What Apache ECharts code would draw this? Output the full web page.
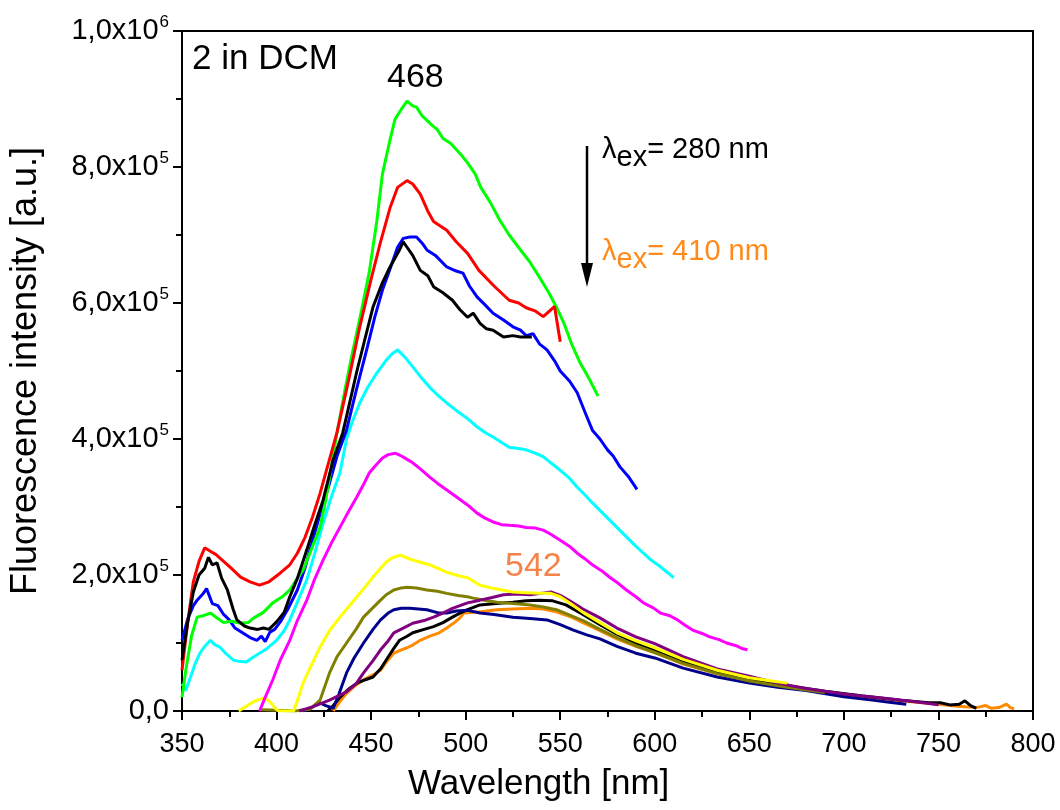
<!DOCTYPE html>
<html>
<head>
<meta charset="utf-8">
<script src="https://cdn.jsdelivr.net/npm/echarts@6/dist/echarts.min.js"></script>
<style>
  html, body { margin: 0; padding: 0; background: #fff; }
  #chart { width: 1060px; height: 810px; }
</style>
</head>
<body>
<div id="chart"></div>
<script>
// Emission spectra of 2 in DCM for a series of excitation wavelengths.
// Each series: [wavelength nm, intensity in units of 1e5 a.u.]
const ex280Black = [[350,0.75],[353,1.3],[356,1.75],[359,2.0],[362,2.1],[364,2.26],[366,2.15],[368.5,2.18],[371,1.95],[374,1.78],[377,1.5],[379,1.34],[383,1.25],[386,1.22],[390,1.2],[393,1.22],[396,1.2],[400,1.31],[404,1.45],[407,1.68],[411,1.95],[416,2.37],[420,2.72],[424.6,3.1],[430,3.7],[435,4.09],[442.5,5.0],[447,5.5],[451,5.94],[456,6.3],[460,6.53],[465,6.78],[467,6.9],[469,6.82],[472,6.7],[476,6.48],[480,6.4],[483,6.24],[488,6.15],[493,6.04],[497,5.9],[501,5.79],[504,5.85],[507.6,5.7],[511,5.62],[514.5,5.6],[520,5.5],[525,5.52],[529,5.5],[535,5.5]];
const exRed = [[350,0.6],[353,1.3],[356,1.9],[359,2.2],[362,2.4],[365,2.35],[368,2.3],[372,2.2],[376,2.1],[381,1.97],[386,1.9],[391,1.85],[396,1.9],[402,2.03],[407,2.15],[411,2.32],[415,2.55],[419,2.85],[423,3.2],[427,3.6],[432,4.1],[438,4.85],[444,5.65],[450,6.35],[455,6.9],[460,7.4],[464,7.7],[469,7.8],[472,7.75],[476,7.6],[480,7.35],[483,7.2],[490,7.07],[495,6.9],[501,6.73],[507,6.48],[515,6.25],[523,6.04],[528,6.0],[532,5.93],[537,5.88],[541,5.8],[545,5.9],[547,5.95],[550,5.43]];
const exGreen = [[350,0.2],[352,0.6],[355,1.1],[358,1.38],[361,1.4],[365,1.44],[368,1.38],[372,1.3],[376,1.32],[381,1.29],[385,1.3],[388,1.37],[393,1.45],[398,1.59],[403,1.68],[407,1.78],[411,1.95],[414,2.07],[418,2.35],[423,2.7],[426,3.1],[429,3.6],[432,4.1],[436,4.7],[440,5.25],[445,5.9],[449,6.45],[453,7.2],[456,7.9],[460,8.4],[462.6,8.7],[466,8.85],[469,8.97],[472,8.9],[474,8.88],[477,8.75],[479,8.7],[482,8.62],[485,8.55],[488,8.42],[492,8.35],[497,8.2],[501,8.06],[505,7.9],[508,7.7],[513,7.48],[518,7.22],[523,7.0],[529,6.78],[534,6.6],[539,6.38],[544,6.15],[548,5.94],[552,5.7],[556,5.4],[560.5,5.12],[565,4.9],[570,4.63]];
const exBlue = [[350,1.04],[353,1.35],[356,1.55],[358,1.63],[361,1.72],[363,1.8],[366,1.58],[369,1.55],[372,1.42],[375,1.34],[378,1.22],[382,1.15],[386,1.08],[389.6,1.04],[392,1.1],[394,1.02],[396.5,1.16],[399,1.2],[402,1.31],[406,1.5],[411,1.78],[415,2.1],[419,2.5],[423,2.9],[428,3.35],[432,3.75],[437,4.13],[442,4.7],[448,5.35],[452,5.8],[456,6.19],[460,6.5],[464,6.82],[467,6.95],[470.5,6.97],[474,6.97],[477,6.88],[479.5,6.78],[484,6.7],[490,6.53],[495,6.47],[498.6,6.44],[502,6.25],[506,6.09],[510,5.98],[514.5,5.85],[520,5.75],[525,5.65],[529,5.6],[532,5.52],[535.6,5.55],[539,5.4],[543,5.31],[547,5.15],[550,5.0],[555,4.85],[559,4.68],[563,4.4],[567,4.13],[571,4.0],[575,3.84],[578,3.75],[581.6,3.59],[586,3.45],[590.6,3.26]];
const exCyan = [[350,0.4],[352,0.3],[354,0.46],[357,0.7],[359.5,0.85],[362,0.95],[365,1.04],[367,0.98],[370,0.94],[373,0.85],[377,0.75],[380,0.73],[384,0.72],[387,0.78],[391,0.85],[395,0.92],[400,1.04],[404,1.18],[407,1.34],[411,1.6],[416,1.93],[420,2.3],[424.6,2.76],[429,3.15],[433.5,3.5],[437,4.0],[440,4.25],[444,4.53],[448,4.75],[453,4.97],[458,5.16],[461,5.25],[464,5.31],[468,5.2],[472,5.06],[476,4.92],[481,4.76],[485,4.65],[490,4.53],[495,4.42],[501,4.3],[506,4.18],[510,4.1],[514.5,4.03],[519,3.95],[523,3.88],[528,3.86],[532,3.84],[536,3.8],[541,3.74],[545,3.65],[550,3.54],[555,3.42],[559,3.29],[563,3.18],[567,3.06],[571,2.95],[576,2.81],[580,2.7],[585,2.56],[589,2.45],[594,2.32],[598,2.22],[603,2.12],[607,2.03],[610,1.96]];
const exMagenta = [[391,0],[394,0.2],[398,0.46],[402,0.75],[407,1.04],[411,1.33],[416,1.63],[420,1.93],[424.6,2.22],[429,2.47],[433.5,2.7],[438,2.93],[442.5,3.15],[446,3.33],[449,3.5],[452,3.6],[456,3.72],[459,3.77],[463,3.79],[466,3.75],[469,3.7],[472,3.65],[476,3.56],[481,3.44],[485,3.35],[490,3.25],[495,3.15],[501,3.03],[506,2.91],[510,2.84],[514.5,2.78],[519,2.74],[523,2.73],[528,2.72],[532,2.7],[537,2.69],[541,2.66],[545,2.6],[550,2.51],[555,2.42],[559,2.32],[563,2.24],[567,2.15],[572,2.06],[576,1.97],[581,1.87],[585,1.78],[590,1.68],[594,1.59],[599,1.52],[603,1.44],[608,1.4],[612,1.34],[616,1.26],[620,1.19],[625,1.14],[629,1.09],[634,1.05],[638,1.0],[643,0.96],[646,0.92],[649,0.9]];
const exYellow = [[380,0],[384,0.07],[388,0.14],[391,0.17],[393,0.19],[395,0.17],[397,0.12],[399,0.05],[401,0],[409,0],[411,0.15],[414,0.41],[418,0.65],[423,0.94],[428,1.18],[433.5,1.38],[438,1.53],[442.5,1.68],[447,1.83],[451,1.97],[455,2.1],[458,2.19],[461,2.25],[464,2.28],[466,2.29],[469,2.25],[472,2.22],[477,2.18],[481,2.15],[486,2.09],[490,2.04],[496,1.99],[501,1.96],[507.6,1.85],[515,1.8],[525,1.75],[532,1.74],[539,1.73],[545,1.73],[550,1.68],[556,1.57],[562,1.45],[571,1.3],[580,1.15],[590,1.03],[600,0.93],[615,0.76],[633,0.6],[650,0.49],[660,0.45],[670,0.41]];
const exOlive = [[392,0.02],[400,0.01],[410,0.0],[418,0.03],[423,0.16],[428,0.56],[432,0.8],[437,1.0],[442,1.2],[446,1.38],[451,1.52],[455,1.63],[458,1.71],[462,1.78],[466,1.81],[469,1.82],[474,1.81],[479.5,1.78],[485,1.76],[490,1.73],[496,1.7],[501,1.68],[504,1.66],[510,1.63],[516.5,1.6],[525,1.58],[534,1.56],[541,1.53],[548,1.49],[556,1.4],[562,1.33],[571,1.2],[580,1.08],[590,0.96],[600,0.86],[615,0.7],[633,0.55],[650,0.44],[670,0.35],[690,0.27]];
const exNavy = [[414,0],[418,0.04],[421,0.1],[423,0.12],[426,0.08],[430,0.04],[433,0.25],[437,0.56],[441,0.78],[446,1.0],[451,1.2],[455,1.34],[459,1.44],[462,1.49],[466,1.51],[470.6,1.51],[475,1.5],[479.5,1.49],[486,1.44],[490,1.44],[495,1.47],[501,1.48],[507.6,1.44],[515,1.42],[525,1.38],[534,1.36],[543,1.34],[550,1.27],[557,1.19],[564,1.12],[571,1.06],[580,0.95],[590,0.85],[600,0.78],[615,0.63],[633,0.5],[650,0.41],[665,0.35],[680,0.3],[700,0.21],[715,0.16],[724,0.13],[733,0.1]];
const exPurple = [[412,0],[419,0.06],[428,0.16],[437,0.28],[442,0.4],[446,0.56],[451,0.74],[455,0.9],[459,1.03],[462,1.15],[467,1.22],[472,1.29],[478,1.33],[483,1.38],[488,1.44],[493,1.51],[501,1.59],[507.6,1.63],[514,1.67],[520,1.71],[527,1.72],[534,1.71],[540,1.73],[545,1.75],[550,1.7],[555,1.62],[562,1.5],[571,1.37],[580,1.22],[590,1.09],[600,0.99],[615,0.8],[633,0.62],[650,0.51],[665,0.41],[680,0.33],[700,0.25],[720,0.19],[733,0.15],[742,0.12],[750,0.09]];
const ex2Black = [[427,0],[430,0.08],[433.5,0.2],[438,0.32],[442.5,0.41],[447,0.46],[451,0.5],[455,0.62],[458,0.75],[462,0.92],[465,1.04],[469,1.1],[472,1.15],[478,1.2],[483,1.24],[488,1.3],[493,1.38],[497,1.44],[501,1.49],[507.6,1.56],[516,1.58],[525,1.6],[532,1.62],[539,1.63],[546,1.62],[553,1.56],[562,1.42],[571,1.27],[580,1.13],[590,1.0],[600,0.9],[615,0.73],[633,0.57],[650,0.46],[670,0.37],[690,0.29],[710,0.22],[730,0.16],[745,0.12],[751,0.12],[756,0.09],[761,0.1],[764,0.15],[767,0.08],[770,0.04]];
const exOrange = [[430,0],[433,0.12],[437,0.26],[441,0.36],[446,0.46],[451,0.53],[455,0.6],[458,0.72],[462,0.85],[466,0.9],[469,0.93],[472,0.97],[476,1.04],[481,1.1],[486,1.15],[490,1.22],[494,1.3],[497,1.37],[499,1.44],[508,1.46],[516.5,1.49],[525,1.5],[534,1.51],[541,1.5],[548,1.46],[556,1.38],[562,1.3],[571,1.18],[580,1.06],[590,0.95],[600,0.86],[615,0.69],[633,0.55],[650,0.45],[670,0.36],[690,0.28],[710,0.21],[730,0.15],[750,0.1],[760,0.07],[770,0.05],[775,0.08],[778,0.04],[782,0.05],[786,0.1],[788,0.05],[790,0.03]];

const seriesList = [
  { name: 'λex 410', data: exOrange, color: '#FF8A00' },
  { name: 'λex 400', data: ex2Black, color: '#000000' },
  { name: 'λex 390', data: exNavy, color: '#00008B' },
  { name: 'λex 380', data: exOlive, color: '#808000' },
  { name: 'λex 370', data: exPurple, color: '#800080' },
  { name: 'λex 360', data: exYellow, color: '#FFFF00' },
  { name: 'λex 340', data: exMagenta, color: '#FF00FF' },
  { name: 'λex 310', data: exCyan, color: '#00FFFF' },
  { name: 'λex 300', data: exBlue, color: '#0000FF' },
  { name: 'λex 290', data: exGreen, color: '#00FF00' },
  { name: 'λex 285', data: exRed, color: '#FF0000' },
  { name: 'λex 280', data: ex280Black, color: '#000000' }
];

const xTicks = { min: 350, max: 800, step: 50 };
const yTicks = { min: 0, max: 1e6, step: 2e5 };
const yTickText = ['0,0', '2,0x10', '4,0x10', '6,0x10', '8,0x10', '1,0x10'];
const yTickExp = ['', '5', '5', '5', '5', '6'];

const FONT = '"Liberation Sans", Arial, sans-serif';

const chart = echarts.init(document.getElementById('chart'), null, { renderer: 'canvas' });

const option = {
  backgroundColor: '#ffffff',
  animation: false,
  grid: {
    left: 182, right: 27, top: 31, bottom: 99,
    containLabel: false, outerBoundsMode: 'none',
    show: true, borderColor: '#000', borderWidth: 2, backgroundColor: 'transparent'
  },
  xAxis: {
    type: 'value',
    min: xTicks.min, max: xTicks.max, interval: xTicks.step,
    axisLine: { show: true, lineStyle: { color: '#000', width: 2 } },
    axisTick: { show: true, inside: false, length: 9, lineStyle: { color: '#000', width: 2 } },
    minorTick: { show: true, splitNumber: 2, length: 6, lineStyle: { color: '#000', width: 2 } },
    splitLine: { show: false },
    axisLabel: { fontFamily: FONT, fontSize: 27, color: '#000', margin: 20 }
  },
  yAxis: {
    type: 'value',
    min: yTicks.min, max: yTicks.max, interval: yTicks.step,
    name: 'Fluorescence intensity [a.u.]',
    nameLocation: 'middle', nameGap: 138, nameRotate: 90,
    nameTextStyle: { fontFamily: FONT, fontSize: 36, color: '#000' },
    axisLine: { show: true, lineStyle: { color: '#000', width: 2 } },
    axisTick: { show: true, inside: false, length: 9, lineStyle: { color: '#000', width: 2 } },
    minorTick: { show: true, splitNumber: 2, length: 6, lineStyle: { color: '#000', width: 2 } },
    splitLine: { show: false },
    axisLabel: {
      margin: 13,
      formatter: function (v) {
        const i = Math.round((v - yTicks.min) / yTicks.step);
        const e = yTickExp[i];
        return e ? '{b|' + yTickText[i] + '}{s|' + e + '}' : '{b|' + yTickText[i] + '}';
      },
      rich: {
        b: { fontFamily: FONT, fontSize: 29, color: '#000' },
        s: { fontFamily: FONT, fontSize: 17, color: '#000', padding: [0, 0, 17, 1] }
      }
    }
  },
  series: seriesList.map(s => ({
    name: s.name,
    type: 'line',
    showSymbol: false,
    symbol: 'none',
    smooth: false,
    lineStyle: { color: s.color, width: 3 },
    data: s.data.map(p => [p[0], p[1] * 1e5])
  })),
  graphic: [
    {
      type: 'text', left: 408, top: 767,
      style: { text: 'Wavelength [nm]', font: '35px ' + FONT, fill: '#000' }
    },
    {
      type: 'text', left: 192, top: 42,
      style: { text: '2 in DCM', font: '35px ' + FONT, fill: '#000' }
    },
    {
      type: 'text', left: 387, top: 61,
      style: { text: '468', font: '34px ' + FONT, fill: '#000' }
    },
    {
      type: 'text', left: 505, top: 550,
      style: { text: '542', font: '34px ' + FONT, fill: '#F5834A' }
    },
    {
      type: 'line', shape: { x1: 587, y1: 146, x2: 587, y2: 268 },
      style: { stroke: '#000', lineWidth: 2.5 }
    },
    {
      type: 'polygon', shape: { points: [[581, 263], [593, 263], [587, 287]] },
      style: { fill: '#000' }
    },
    {
      type: 'text', left: 602, top: 135,
      style: {
        text: '{l|λ}{sub|ex}{t|= 280 nm}',
        rich: {
          l: { font: '29px ' + FONT, fill: '#000' },
          sub: { font: '29px ' + FONT, fill: '#000', padding: [16, 0, 0, 0] },
          t: { font: '29px ' + FONT, fill: '#000' }
        }
      }
    },
    {
      type: 'text', left: 602, top: 237,
      style: {
        text: '{l|λ}{sub|ex}{t|= 410 nm}',
        rich: {
          l: { font: '29px ' + FONT, fill: '#FF8A1A' },
          sub: { font: '29px ' + FONT, fill: '#FF8A1A', padding: [16, 0, 0, 0] },
          t: { font: '29px ' + FONT, fill: '#FF8A1A' }
        }
      }
    }
  ]
};

chart.setOption(option);
</script>
</body>
</html>
